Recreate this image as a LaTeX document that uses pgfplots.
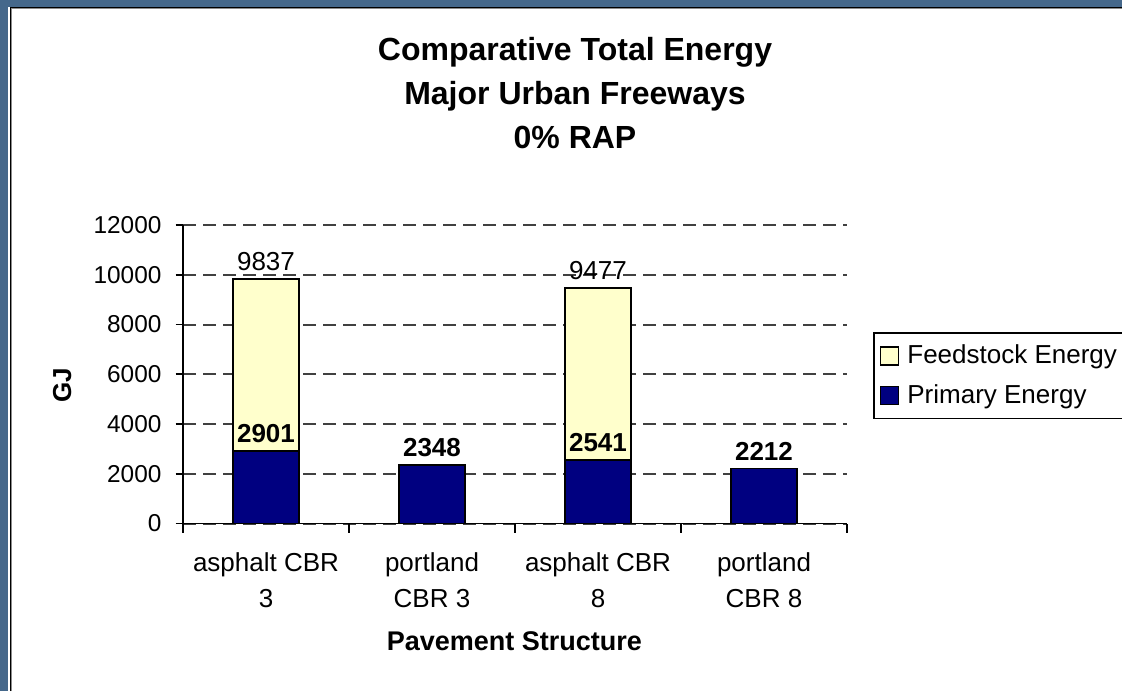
\documentclass[border=0pt]{standalone}
\usepackage{fontspec}
\setmainfont{Liberation Sans}
\usepackage{pgfplots}
\pgfplotsset{compat=1.18}
\definecolor{frameblue}{RGB}{69,104,139}
\definecolor{navybar}{RGB}{0,0,128}
\definecolor{feedyellow}{RGB}{255,255,204}
\definecolor{gridgray}{RGB}{64,64,64}
\newcommand\tickfont{\fontsize{12.2}{14}\selectfont}
\newcommand\catfont{\fontsize{13}{18}\selectfont}
\newcommand\labfont{\fontsize{13}{15}\selectfont}
\pgfplotsset{sqlegend/.style={legend image code/.code={\draw[##1, line width=0.8pt] (0pt,-4.5pt) rectangle (9pt,4.5pt);}}}
\begin{document}
\begin{tikzpicture}
\useasboundingbox (0pt,0pt) rectangle (561pt,345.5pt);
\clip (0pt,0pt) rectangle (561pt,345.5pt);
\fill[frameblue] (0pt,0pt) rectangle (561pt,345.5pt);
\fill[white] (4pt,0pt) rectangle (561pt,342pt);
\draw[black, line width=0.6pt] (5.2pt,0pt) -- (5.2pt,341.8pt) -- (561pt,341.8pt);
\draw[black!45, line width=0.6pt] (5.8pt,0pt) -- (5.8pt,341.2pt) -- (561pt,341.2pt);
\begin{axis}[
  at={(91.5pt,83.75pt)}, anchor=south west,
  scale only axis, width=332pt, height=149.25pt,
  xmin=-0.5, xmax=3.5, ymin=0, ymax=12000,
  enlarge x limits=false, enlarge y limits=false,
  axis lines*=left,
  axis line style={black, line width=0.9pt},
  tick align=outside,
  major tick length=3.75pt, minor tick length=4.5pt,
  every tick/.style={black, line width=0.9pt},
  ytick={0,2000,4000,6000,8000,10000,12000},
  scaled y ticks=false,
  xtick={0,1,2,3},
  xticklabels={{asphalt CBR\\3},{portland\\CBR 3},{asphalt CBR\\8},{portland\\CBR 8}},
  minor xtick={-0.5,0.5,1.5,2.5,3.5},
  major x tick style={draw=none},
  ymajorgrids,
  major grid style={gridgray, line width=1pt, dash pattern=on 6.5pt off 3.5pt},
  /pgf/number format/1000 sep={},
  /pgf/number format/assume math mode=true,
  yticklabel style={font=\tickfont, xshift=-3.5pt},
  xticklabel style={font=\catfont, align=center, yshift=-7.5pt},
  ylabel={GJ},
  every axis y label/.style={at={(rel axis cs:-0.182,0.464)}, rotate=90, anchor=center, font=\bfseries\fontsize{13}{15}\selectfont},
  xlabel={Pavement Structure},
  every axis x label/.style={at={(rel axis cs:0.4992,-0.3936)}, anchor=center, font=\bfseries\fontsize{13.5}{16}\selectfont},
  title={Comparative Total Energy\\Major Urban Freeways\\0\% RAP},
  title style={at={(rel axis cs:0.5904,1.402)}, anchor=center, align=center, font=\bfseries\fontsize{16}{22}\selectfont},
  legend style={at={(rel axis cs:1.039,0.6415)}, anchor=north west, draw=black, line width=0.9pt,
    font=\fontsize{13}{15}\selectfont, inner xsep=3pt, inner ysep=4pt, row sep=5pt,
    nodes={inner xsep=4pt}},
  legend cell align=left,
]
\addplot[ybar, bar width=33.2pt, bar shift=0pt, fill=feedyellow, draw=black, line width=0.9pt, sqlegend,
  nodes near coords, point meta=explicit symbolic,
  every node near coord/.append style={font=\labfont, inner sep=0pt, anchor=south, yshift=3.75pt}]
  coordinates {(0,9837) [9837] (2,9477) [9477]};
\addlegendentry{Feedstock Energy}
\addplot[ybar, bar width=33.2pt, bar shift=0pt, fill=navybar, draw=black, line width=0.9pt, sqlegend,
  nodes near coords, point meta=explicit symbolic,
  every node near coord/.append style={font=\bfseries\labfont, inner sep=0pt, anchor=south, yshift=3.75pt}]
  coordinates {(0,2901) [2901] (1,2348) [2348] (2,2541) [2541] (3,2212) [2212]};
\addlegendentry{Primary Energy}
\end{axis}
\end{tikzpicture}
\end{document}
